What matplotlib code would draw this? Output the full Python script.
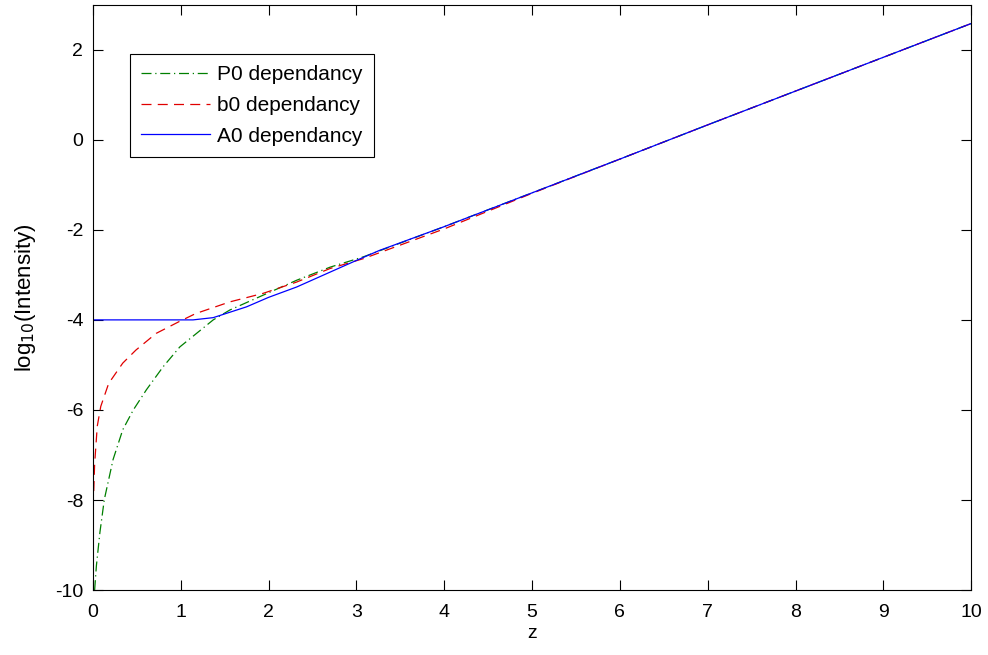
import matplotlib
matplotlib.use("Agg")
import matplotlib.pyplot as plt

plt.rcParams['font.family'] = ['Liberation Sans', 'DejaVu Sans']
plt.rcParams['axes.unicode_minus'] = False

# P0 dependancy (green, dash-dot)
z_p0 = [0.02, 0.04, 0.08, 0.13, 0.23, 0.34, 0.46, 0.61, 0.80, 0.99, 1.18, 1.37, 1.56,
        1.94, 2.32, 2.70, 3.08, 4.0, 5.0, 6.0, 7.0, 8.0, 9.0, 10.0]
y_p0 = [-10.0, -9.46, -8.72, -7.99, -7.10, -6.44, -6.00, -5.55, -5.04, -4.60, -4.30, -4.00, -3.78,
        -3.45, -3.12, -2.83, -2.60, -1.93, -1.18, -0.43, 0.33, 1.08, 1.83, 2.58]

# b0 dependancy (red, dashed)
z_b0 = [0.01, 0.02, 0.05, 0.09, 0.18, 0.34, 0.49, 0.72, 0.98, 1.17, 1.56, 1.94, 2.32,
        2.70, 3.08, 4.0, 5.0, 6.0, 7.0, 8.0, 9.0, 10.0]
y_b0 = [-7.8, -7.2, -6.36, -5.92, -5.41, -4.96, -4.67, -4.30, -4.04, -3.86, -3.60, -3.41, -3.16,
        -2.86, -2.64, -1.98, -1.19, -0.43, 0.33, 1.08, 1.83, 2.58]

# A0 dependancy (blue, solid)
z_a0 = [0.0, 0.5, 1.0, 1.14, 1.37, 1.56, 1.75, 2.0, 2.32, 2.70, 3.0, 3.26,
        4.0, 5.0, 6.0, 7.0, 8.0, 9.0, 10.0]
y_a0 = [-4.0, -4.0, -4.0, -4.0, -3.95, -3.83, -3.71, -3.50, -3.27, -2.94, -2.68, -2.46,
        -1.93, -1.18, -0.43, 0.33, 1.08, 1.83, 2.58]

x_ticks = [0, 1, 2, 3, 4, 5, 6, 7, 8, 9, 10]
y_ticks = [-10, -8, -6, -4, -2, 0, 2]

fig = plt.figure(figsize=(9.88, 6.55), dpi=100)
ax = fig.add_axes([0.094, 0.099, 0.889, 0.894])

ax.plot(z_p0, y_p0, color='#007f00', linestyle=(0, (8, 3, 1, 3)), linewidth=0.9, label='P0 dependancy')
ax.plot(z_b0, y_b0, color='#e00000', linestyle=(0, (8, 5)), linewidth=0.9, label='b0 dependancy')
ax.plot(z_a0, y_a0, color='#0000ff', linestyle='-', linewidth=0.9, label='A0 dependancy')

ax.set_xlim(0, 10)
ax.set_ylim(-10, 3)
ax.set_xticks(x_ticks)
ax.set_yticks(y_ticks)
ax.tick_params(direction='in', top=True, right=True, length=7, width=0.8, labelsize=14)
ax.tick_params(axis='x', pad=10)
ax.tick_params(axis='y', pad=7)
for s in ax.spines.values():
    s.set_linewidth(0.8)

ax.set_xlabel('z', fontsize=14, labelpad=3)
ax.set_ylabel('log$_{10}$(Intensity)', fontsize=16, labelpad=12)

leg = ax.legend(loc='upper left', bbox_to_anchor=(0.042, 0.916), fontsize=15,
                frameon=True, fancybox=False, edgecolor='black', framealpha=1,
                handlelength=3.3, handletextpad=0.35, borderpad=0.55, labelspacing=0.56,
                borderaxespad=0)
leg.get_frame().set_linewidth(0.8)

fig.savefig('out.png', dpi=100)
